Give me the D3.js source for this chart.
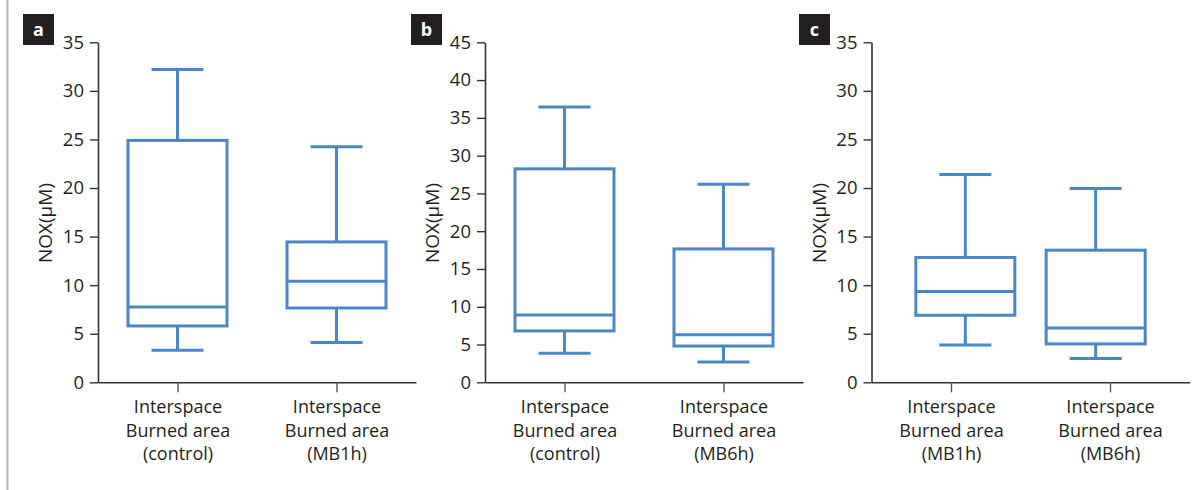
<!DOCTYPE html>
<html>
<head>
<meta charset="utf-8">
<script src="https://cdn.jsdelivr.net/npm/d3@7"></script>
<style>
  html, body { margin: 0; padding: 0; background: #fff; }
  svg { display: block; font-family: "Open Sans", "Noto Sans", sans-serif; }
</style>
</head>
<body>
<svg id="chart" width="1202" height="490"></svg>
<script>
// ---- Data ----
const panelLetters = ["a", "b", "c"];
const categoriesA = ["Interspace|Burned area|(control)", "Interspace|Burned area|(MB1h)"];
const categoriesB = ["Interspace|Burned area|(control)", "Interspace|Burned area|(MB6h)"];
const categoriesC = ["Interspace|Burned area|(MB1h)", "Interspace|Burned area|(MB6h)"];
// [min, q1, median, q3, max]
const boxesA = [[3.3, 5.8, 7.75, 24.9, 32.2], [4.1, 7.65, 10.4, 14.45, 24.25]];
const boxesB = [[3.85, 6.8, 8.9, 28.25, 36.45], [2.7, 4.8, 6.3, 17.65, 26.2]];
const boxesC = [[3.85, 6.9, 9.35, 12.85, 21.4], [2.45, 3.95, 5.6, 13.6, 19.95]];
const yTicksA = [0, 5, 10, 15, 20, 25, 30, 35];
const yTicksB = [0, 5, 10, 15, 20, 25, 30, 35, 40, 45];
const yTicksC = [0, 5, 10, 15, 20, 25, 30, 35];
const yLabel = "NOX(μM)";

// ---- Layout / style ----
const FONT = "'Open Sans', 'Noto Sans', sans-serif";
const blue = "#4a86c8";
const axisColor = "#333";
const panels = [
  { letter: panelLetters[0], cats: categoriesA, boxes: boxesA, ticks: yTicksA, axisX: 98, labelBoxX: 23, boxPad: 0.5 },
  { letter: panelLetters[1], cats: categoriesB, boxes: boxesB, ticks: yTicksB, axisX: 485, labelBoxX: 411, boxPad: 0.5 },
  { letter: panelLetters[2], cats: categoriesC, boxes: boxesC, ticks: yTicksC, axisX: 871.5, labelBoxX: 799, boxPad: 0.72 }
];
const plotW = 318, yTop = 42.3, yBottom = 382.3;
const boxW = 99, capW = 52;

const svg = d3.select("#chart");

// left grey border line
svg.append("line").attr("x1", 7.5).attr("x2", 7.5).attr("y1", 0).attr("y2", 490)
  .attr("stroke", "#b5b5b5").attr("stroke-width", 2);

panels.forEach(p => {
  const g = svg.append("g");
  const maxV = p.ticks[p.ticks.length - 1];
  const y = d3.scaleLinear().domain([0, maxV]).range([yBottom, yTop]);
  const x = d3.scalePoint().domain(p.cats).range([p.axisX, p.axisX + plotW]).padding(0.5);
  const xb = d3.scalePoint().domain(p.cats).range([p.axisX, p.axisX + plotW]).padding(p.boxPad);

  // panel letter
  g.append("rect").attr("x", p.labelBoxX).attr("y", 14).attr("width", 31).attr("height", 31).attr("fill", "#231f20");
  g.append("text").attr("x", p.labelBoxX + 15.5).attr("y", 36).attr("text-anchor", "middle")
    .attr("fill", "#fff").attr("font-weight", "bold").attr("font-size", 18).text(p.letter);

  // y axis
  const yAxis = g.append("g").attr("transform", `translate(${p.axisX},0)`)
    .call(d3.axisLeft(y).tickValues(p.ticks).tickSize(8).tickPadding(6).tickSizeOuter(0))
    .attr("font-family", FONT);
  yAxis.select(".domain").attr("stroke", axisColor).attr("stroke-width", 1.6);
  yAxis.selectAll(".tick line").attr("stroke", axisColor).attr("stroke-width", 1.4);
  yAxis.selectAll(".tick text").attr("font-size", 18.5).attr("fill", "#231f20");

  // x axis
  const xAxis = g.append("g").attr("transform", `translate(0,${yBottom})`)
    .call(d3.axisBottom(x).tickSize(10).tickSizeOuter(0).tickFormat(""))
    .attr("font-family", FONT);
  xAxis.select(".domain").attr("stroke", axisColor).attr("stroke-width", 1.6);
  xAxis.selectAll(".tick line").attr("stroke", "#555").attr("stroke-width", 1.4);
  xAxis.selectAll(".tick").each(function(d) {
    const lines = d.split("|");
    const t = d3.select(this).append("text").attr("text-anchor", "middle")
      .attr("font-size", 18).attr("fill", "#231f20");
    lines.forEach((ln, i) => {
      t.append("tspan").attr("x", 0).attr("y", 31 + i * 23.4).text(ln);
    });
  });

  // y label
  g.append("text").attr("transform", `translate(${p.axisX - 46},223) rotate(-90)`)
    .attr("text-anchor", "middle").attr("font-size", 19).attr("fill", "#231f20").text(yLabel);

  // boxes
  p.cats.forEach((c, i) => {
    const [mn, q1, md, q3, mx] = p.boxes[i];
    const cx = xb(c);
    const bg = g.append("g").attr("stroke", blue).attr("stroke-width", 3).attr("fill", "none");
    bg.append("line").attr("x1", cx).attr("x2", cx).attr("y1", y(mx)).attr("y2", y(q3));
    bg.append("line").attr("x1", cx).attr("x2", cx).attr("y1", y(q1)).attr("y2", y(mn));
    bg.append("line").attr("x1", cx - capW / 2).attr("x2", cx + capW / 2).attr("y1", y(mx)).attr("y2", y(mx));
    bg.append("line").attr("x1", cx - capW / 2).attr("x2", cx + capW / 2).attr("y1", y(mn)).attr("y2", y(mn));
    bg.append("rect").attr("x", cx - boxW / 2).attr("y", y(q3)).attr("width", boxW).attr("height", y(q1) - y(q3));
    bg.append("line").attr("x1", cx - boxW / 2).attr("x2", cx + boxW / 2).attr("y1", y(md)).attr("y2", y(md));
  });
});
</script>
</body>
</html>
